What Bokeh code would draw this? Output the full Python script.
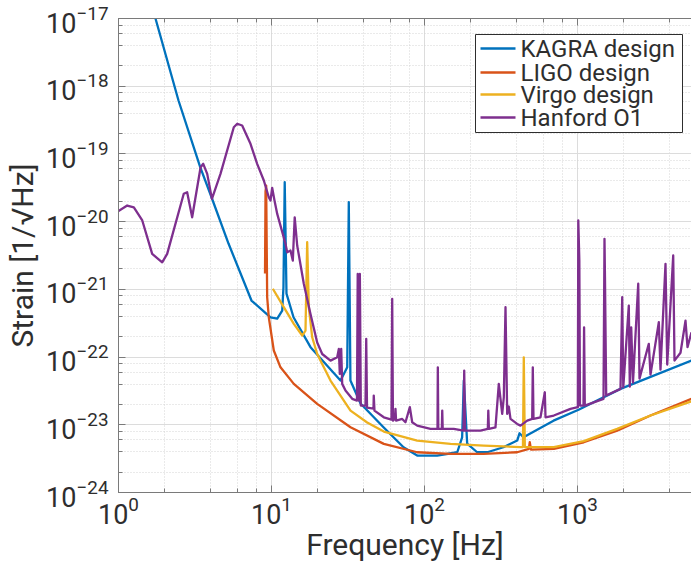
from bokeh.plotting import figure
from bokeh.models import LogTicker, LogAxis, Range1d, CustomJSTickFormatter, BoxAnnotation, Label, Arrow
from bokeh.embed import file_html
from bokeh.resources import INLINE

# ---------------- data ----------------
kagra_freq = [1.6, 1.745, 2.467, 3.42, 4.055, 5.236, 7.396, 9.85, 10.9, 11.75, 11.97, 12.2,
              12.53, 13.93, 17.99, 28.25, 31.26, 32.0, 32.8, 38.2, 53.95, 72.9, 89.6, 121,
              163.7, 176.2, 180.7, 190.1, 220.8, 257, 328, 403.6, 417.8, 443.6, 697, 1016,
              1910, 5560]
kagra_strain = [1.9e-17, 1.0e-17, 6.15e-19, 6.37e-20, 2.29e-20, 4.75e-21, 6.84e-22, 3.87e-22,
                3.71e-22, 4.86e-22, 1.07e-21, 3.82e-20, 8.67e-22, 3.87e-22, 1.40e-22, 4.50e-23,
                7.06e-23, 1.94e-20, 4.50e-23, 2.06e-23, 9.18e-24, 4.66e-24, 3.51e-24, 3.51e-24,
                3.93e-24, 6.53e-24, 4.50e-23, 5.27e-24, 3.93e-24, 3.93e-24, 4.66e-24, 5.85e-24,
                7.50e-24, 6.53e-24, 1.15e-23, 1.67e-23, 3.39e-23, 8.87e-23]

ligo_freq = [9.07, 9.14, 9.23, 9.37, 9.60, 10.35, 11.45, 13.99, 19.89, 32.84, 54.2, 89.6,
             147.9, 244, 403.6, 480.8, 487.5, 496.6, 700, 1099, 1816, 3000, 5560]
ligo_strain = [1.71e-21, 2.79e-20, 3.41e-20, 7.64e-22, 3.87e-22, 1.25e-22, 7.06e-23, 4.02e-23,
               2.04e-23, 9.18e-24, 5.22e-24, 3.93e-24, 3.72e-24, 3.72e-24, 3.93e-24, 4.41e-24,
               5.52e-24, 4.31e-24, 4.41e-24, 5.52e-24, 8.20e-24, 1.37e-23, 2.42e-23]

virgo_freq = [10.2, 12.03, 13.99, 15.88, 16.68, 17.11, 17.53, 18.45, 19.89, 24.30, 32.84, 42.2,
              54.2, 89.6, 147.9, 244, 424, 440, 445.6, 452.6, 700, 1099, 1816, 3000, 5560]
virgo_strain = [1.02e-21, 5.45e-22, 3.09e-22, 2.08e-22, 2.46e-22, 4.97e-21, 5.45e-22, 1.96e-22,
                1.11e-22, 4.50e-23, 1.62e-23, 1.08e-23, 7.94e-24, 5.85e-24, 5.22e-24, 4.93e-24,
                4.69e-24, 4.69e-24, 9.93e-23, 4.69e-24, 4.69e-24, 5.74e-24, 8.69e-24, 1.37e-23,
                2.22e-23]

hanford_freq = [1.00, 1.14, 1.26, 1.43, 1.66, 1.93, 2.08, 2.67, 2.81, 3.03, 3.44, 3.58, 3.80,
                4.08, 4.64, 5.67, 5.97, 6.43, 7.29, 8.06, 8.91, 9.60, 9.85, 10.1, 10.46, 10.9,
                12.35, 12.66, 13.31, 13.78, 14.18, 14.72, 16.26, 17.98, 19.89, 21.45, 24.30,
                26.88, 27.54, 27.95, 28.55, 28.98, 30.45, 33.69, 36.2, 36.6, 37.2, 37.8, 38.35,
                41.15, 41.6, 42.1, 46.4, 46.6, 47.1, 54.2, 60.85, 61.5, 62.2, 64.1, 64.6, 65.2,
                71.5, 75.1, 80.2, 83.1, 89.6, 109.4, 121.6, 122.2, 123.1, 129.8, 130.6, 131.5,
                155.4, 179.9, 181.8, 184.0, 232.3, 259.3, 261.2, 263.6, 291, 305.9, 313.9, 322,
                329.9, 338.4, 347.1, 355.6, 364.8, 403.5, 424.2, 469.2, 505.7, 510.3, 515.7,
                573, 611.4, 617.8, 700, 900, 1005, 1012, 1028, 1038, 1094, 1104, 1116, 1479,
                1501, 1512, 1540, 1910, 1960, 1992, 2164, 2197, 2244, 2305, 2494, 2542, 2924,
                3000, 3400, 3487, 3760, 3858, 4222, 4305, 4712, 5080, 5236, 5560]
hanford_strain = [1.43e-20, 1.73e-20, 1.63e-20, 1.04e-20, 3.34e-21, 2.51e-21, 3.34e-21, 2.58e-20,
                  2.72e-20, 1.16e-20, 6.37e-20, 7.14e-20, 5.08e-20, 2.17e-20, 5.08e-20, 2.48e-19,
                  2.79e-19, 2.63e-19, 1.41e-19, 7.14e-20, 4.05e-20, 2.29e-20, 2.05e-20, 3.16e-20,
                  2.05e-20, 1.30e-20, 4.70e-21, 3.53e-21, 3.74e-21, 2.66e-21, 1.16e-20, 4.44e-21,
                  1.21e-21, 4.34e-22, 1.64e-22, 1.11e-22, 8.87e-23, 9.93e-23, 1.32e-22, 5.65e-23,
                  1.32e-22, 4.02e-23, 3.20e-23, 2.42e-23, 2.28e-23, 1.69e-21, 2.28e-23, 1.69e-21,
                  1.92e-23, 1.92e-23, 1.86e-22, 1.79e-23, 1.73e-23, 2.70e-23, 1.62e-23, 1.29e-23,
                  1.19e-23, 7.24e-22, 1.15e-23, 1.24e-23, 1.72e-23, 1.15e-23, 1.22e-23, 1.09e-23,
                  1.82e-23, 1.09e-23, 9.72e-24, 8.69e-24, 8.69e-24, 7.06e-23, 8.69e-24, 8.69e-24,
                  1.62e-23, 8.69e-24, 8.69e-24, 8.20e-24, 6.31e-23, 8.20e-24, 8.20e-24, 8.69e-24,
                  1.62e-23, 8.69e-24, 9.18e-24, 4.02e-23, 2.42e-23, 1.45e-23, 2.55e-23, 5.45e-22,
                  1.45e-23, 1.86e-23, 1.22e-23, 1.03e-23, 9.72e-24, 1.15e-23, 1.22e-23, 7.06e-23,
                  1.22e-23, 1.29e-23, 3.02e-23, 1.29e-23, 1.37e-23, 1.72e-23, 1.82e-23, 1.04e-20,
                  2.66e-21, 1.92e-23, 1.92e-23, 2.75e-22, 1.92e-23, 2.42e-23, 5.57e-21, 1.51e-21,
                  2.70e-23, 3.39e-23, 7.64e-22, 3.58e-23, 5.77e-22, 3.66e-23, 2.75e-22, 4.20e-23,
                  1.21e-21, 4.81e-23, 1.57e-22, 5.51e-23, 3.27e-22, 6.53e-23, 2.38e-21, 7.74e-23,
                  3.16e-21, 8.87e-23, 1.16e-22, 3.46e-22, 1.40e-22, 2.32e-22]

series_labels = ["KAGRA design", "LIGO design", "Virgo design", "Hanford O1"]
series_colors = ["#0072BD", "#D95319", "#EDB120", "#7E2F8E"]

x_label = "Frequency [Hz]"
y_label = "Strain [1/√Hz]"

# ---------------- figure ----------------
FONT = "Roboto"
TEXT = "#2e2e2e"
AXIS = "#7a7a7a"

p = figure(width=691, height=564, x_axis_type="log", y_axis_type="log",
           x_range=Range1d(1, 5560), y_range=Range1d(1e-24, 1e-17),
           output_backend="svg", toolbar_location=None,
           min_border_left=118, min_border_top=18, min_border_bottom=72, min_border_right=0,
           background_fill_color="white", border_fill_color="white")
p.outline_line_color = None

p.xaxis.ticker = LogTicker(desired_num_ticks=5)
p.yaxis.ticker = LogTicker(desired_num_ticks=10)

for ax in (p.xaxis[0], p.yaxis[0]):
    ax.axis_line_color = AXIS
    ax.major_tick_line_color = AXIS
    ax.minor_tick_line_color = AXIS
    ax.major_tick_in = 7
    ax.major_tick_out = 0
    ax.minor_tick_in = 4
    ax.minor_tick_out = 0
    ax.major_label_text_font = FONT
    ax.major_label_text_font_size = "27px"
    ax.major_label_text_color = TEXT
    ax.axis_label_text_font = FONT
    ax.axis_label_text_font_size = "30px"
    ax.axis_label_text_font_style = "normal"
    ax.axis_label_text_color = TEXT

p.xaxis.axis_label = x_label
p.yaxis.axis_label = y_label
p.xaxis.major_label_standoff = 3
p.yaxis.major_label_standoff = 10
p.xaxis.axis_label_standoff = 0
p.yaxis.axis_label_standoff = 3

# top box edge with inward ticks (no labels), as in the reference
top_axis = LogAxis(ticker=LogTicker(desired_num_ticks=5),
                   formatter=CustomJSTickFormatter(code="return ' '"),
                   axis_line_color=AXIS, major_tick_line_color=AXIS, minor_tick_line_color=AXIS,
                   major_tick_in=7, major_tick_out=0, minor_tick_in=4, minor_tick_out=0,
                   major_label_text_font_size="1px", major_label_standoff=0)
p.add_layout(top_axis, "above")

for g in (p.xgrid[0], p.ygrid[0]):
    g.grid_line_color = "#dcdcdc"
    g.grid_line_width = 1
    g.minor_grid_line_color = "#d4d4d4"
    g.minor_grid_line_dash = "1 2"
    g.minor_grid_line_width = 1

data = [(kagra_freq, kagra_strain), (ligo_freq, ligo_strain),
        (virgo_freq, virgo_strain), (hanford_freq, hanford_strain)]
for (fx, hy), col in zip(data, series_colors):
    p.line(fx, hy, line_color=col, line_width=2.3, line_join="round")

# ---------------- legend box (screen units, relative to the plot frame) ----------------
LEG_LEFT, LEG_RIGHT, LEG_BOTTOM, LEG_TOP = 357, 564, 360, 458
ROW_Y = [444, 420, 398, 375]
p.add_layout(BoxAnnotation(left=LEG_LEFT, right=LEG_RIGHT, bottom=LEG_BOTTOM, top=LEG_TOP,
                           left_units="screen", right_units="screen",
                           bottom_units="screen", top_units="screen",
                           fill_color="white", fill_alpha=1.0,
                           line_color=TEXT, line_width=1, line_alpha=1.0))
for lab, col, ry in zip(series_labels, series_colors, ROW_Y):
    p.add_layout(Arrow(end=None, x_start=LEG_LEFT + 5, y_start=ry, x_end=LEG_LEFT + 40, y_end=ry,
                       start_units="screen", end_units="screen",
                       line_color=col, line_width=2.3))
    p.add_layout(Label(x=LEG_LEFT + 45, y=ry, x_units="screen", y_units="screen", text=lab,
                       text_baseline="middle", text_align="left", text_font=FONT,
                       text_font_size="24px", text_color=TEXT))

open("out.html", "w").write(file_html(p, INLINE))
